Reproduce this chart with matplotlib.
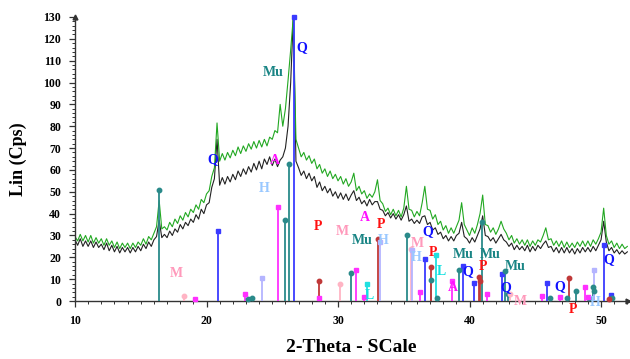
import numpy as np
import matplotlib
matplotlib.use("Agg")
import matplotlib.pyplot as plt
from matplotlib.ticker import MultipleLocator

# ---------------- data ----------------
two_theta = np.round(np.arange(10.0, 52.01, 0.2), 1)

black_cps = [
    28, 25.5, 28.5, 25, 27.5,    25, 27.5, 24.5, 27, 24.5,    26, 23.5, 26.5, 23, 25.5,
    22.5, 25, 22, 24.5, 22.5,    24.5, 22, 24.5, 22.5, 25,    23, 26, 24, 27, 25,
    28, 29.5, 37, 29, 30.5,      29, 32, 30, 33, 31.5,        35, 33, 36, 34.5, 37.5,
    36, 39.5, 37.5, 42, 40,      44, 45, 52, 56, 74,          53, 56.5, 53.5, 57, 54.5,
    58, 55.5, 59.5, 57, 60.5,    58, 61.5, 59, 63, 60,        64, 60.5, 65, 62.5, 66,
    62, 65, 61.5, 64.5, 66,      70, 80, 100, 130, 64,        61, 57.5, 59.5, 56, 58.5,
    55, 57, 52, 54.5, 50.5,      52.5, 49.5, 51.5, 48, 50,    47, 49.5, 46.5, 49, 46,
    48.5, 50.5, 46, 47.5, 44.5,  46, 43.5, 46.5, 44, 45.5,    45.5, 42, 41.5, 39, 40.5,
    38, 40, 37.5, 39.5, 37,      39.5, 43.5, 36.5, 37.5, 35.5, 37, 35.5, 38.5, 39, 35,
    36, 32.5, 33.5, 30.5, 31.5,  28.5, 30, 27.5, 29.5, 27.5,  30, 31, 36, 29.5, 28.5,
    26.5, 29, 27, 30, 33,        39, 30, 29.5, 27.5, 29,      26.5, 28.5, 30.5, 28, 27,
    25, 26.5, 23.5, 25.5, 23.5,  25, 23, 25.5, 22.5, 25,      23, 25.5, 24, 26, 27.5,
    24.5, 25, 22.5, 24.5, 22,    24.5, 22, 24.5, 22, 24,      21.5, 24, 22, 24.5, 22.5,
    24.5, 22.5, 25, 23, 25.5,    28, 36.5, 27, 23, 24.5,      22, 23.5, 21.5, 23, 21.5,
    22.5,
]

green_cps = [
    29.5, 27.5, 30.5, 27.5, 30,  27, 30, 26.5, 29, 26.5,      28.5, 25.5, 28.5, 25.5, 27.5,
    24.5, 27, 24, 26.5, 24.5,    26.5, 24, 26.5, 24.5, 27,    25.5, 28.5, 26, 29.5, 28,
    31, 34, 46, 33, 34,          32.5, 36, 34, 37.5, 35.5,    39, 37, 40.5, 38.5, 42,
    40.5, 44, 42, 46.5, 45,      49, 50.5, 57, 61, 81.5,      64, 67.5, 64.5, 68, 65.5,
    69, 66.5, 70.5, 67.5, 71,    68.5, 72, 69.5, 73, 70,      73.5, 70.5, 74, 71, 75,
    74, 78, 77, 90, 80,          88, 101, 115, 130, 74,       70, 66, 68, 64.5, 66.5,
    63, 65, 60.5, 62.5, 58.5,    60.5, 57, 59.5, 56, 58,      55, 57, 53.5, 56, 52.5,
    54.5, 58.5, 50.5, 52.5, 49,  50.5, 47, 49, 47.5, 50,      55.5, 46, 44.5, 41, 42.5,
    39.5, 42, 39, 41.5, 38.5,    42.5, 52.5, 42, 41.5, 38.5,  41, 39, 45, 52.5, 42,
    41.5, 37.5, 39.5, 35, 36.5,  32.5, 34.5, 31, 33.5, 31,    34, 37, 45, 35, 32.5,
    30, 33.5, 31, 35, 40,        48.5, 35, 34.5, 31.5, 33.5,  30.5, 33, 36.5, 33, 31,
    28, 30, 26.5, 28.5, 26,      28, 25.5, 28, 25, 27.5,      25.5, 28, 27, 30, 33.5,
    28, 28.5, 25.5, 27.5, 25,    27.5, 24.5, 27, 24.5, 26.5,  24.5, 27, 25, 27.5, 25,
    27.5, 25, 28, 26, 28.5,      31.5, 42.5, 30, 26, 27.5,    24.5, 26.5, 24, 26, 24,
    25,
]

# reference sticks per phase
q_pos = [20.85, 26.65, 36.6, 39.53, 40.35, 42.5, 45.9, 50.23, 50.75]
q_int = [32, 130, 19, 16, 8.3, 12.2, 8.4, 25.6, 2.7]

mu_pos = [16.4, 23.15, 23.45, 26.0, 26.27, 31.0, 35.25, 37.05, 37.5, 39.2,
          40.93, 42.7, 42.9, 46.15, 47.4, 48.1, 49.1, 49.4, 49.45, 50.85]
mu_int = [51, 1, 1.5, 37, 62.7, 12.8, 30, 9.5, 1.5, 14,
          36, 13.8, 3, 1.5, 1.5, 4.6, 1.5, 6.4, 4.5, 1.5]

p_pos = [28.55, 33.05, 37.1, 40.75, 40.8, 47.55, 50.6]
p_int = [9, 28.5, 15.5, 11, 9, 10.7, 0.8]

a_pos = [19.1, 22.9, 25.45, 28.55, 31.4, 31.95, 36.25, 38.67, 41.35, 45.5,
         46.9, 48.75, 49.0]
a_int = [1, 3, 43, 1.5, 14.2, 2, 4, 9, 3, 2.5, 2, 6.5, 2]

m_pos = [18.3, 30.15, 35.55, 43.1]
m_int = [2.4, 8, 23.7, 3]

h_pos = [24.2, 33.2, 35.65, 49.5]
h_int = [10.7, 27, 23.5, 14.2]

l_pos = [32.2, 37.43]
l_int = [8, 21]

# phase labels
lbl_text = ["Q", "Mu", "Q", "A", "H", "P", "M", "A", "P", "Mu", "H", "M",
            "Q", "M", "H", "P", "L", "Mu", "Mu", "Mu", "Q", "P", "A", "L",
            "Q", "M", "Q", "P", "H", "Q"]
lbl_x = [27.26, 25.06, 20.49, 25.21, 24.37, 28.48, 30.30, 32.05, 33.27, 31.83,
         33.42, 17.68, 36.84, 36.0, 35.93, 37.22, 37.83, 39.5, 41.56, 43.46,
         39.89, 41.03, 38.75, 32.36, 42.78, 43.84, 46.88, 47.87, 49.54, 50.6]
lbl_y = [115.8, 104.8, 64.5, 64.5, 51.3, 34.3, 31.6, 38.0, 34.8, 27.9,
         27.9, 12.8, 31.6, 26.1, 19.7, 22.0, 13.3, 21.5, 21.5, 15.6,
         13.3, 16.0, 6.0, 2.7, 5.9, -0.3, 6.4, -3.7, -0.5, 18.8]

# ---------------- style ----------------
colors = {
    "Q": "#1010ff", "Mu": "#1a8585", "P": "#ff1010", "A": "#ff10ff",
    "M": "#ff99bb", "H": "#99c8ff", "L": "#10e0e0",
}
stick_colors = {
    "Q": "#3a3aff", "Mu": "#2a8a8a", "P": "#c03838", "A": "#ff30ff",
    "M": "#ffb4c4", "H": "#b4b4ff", "L": "#20e0e0",
}
stick_markers = {"Q": "s", "Mu": "o", "P": "o", "A": "s", "M": "o", "H": "s", "L": "s"}

serif = ["Liberation Serif", "DejaVu Serif"]

fig = plt.figure(figsize=(6.30, 3.59), dpi=100)
ax = fig.add_axes([75 / 630, 1 - 301 / 359, (628 - 75) / 630, (301 - 17) / 359])

ax.plot(two_theta, black_cps, color="#222222", lw=0.8, zorder=2)
ax.plot(two_theta, green_cps, color="#22a822", lw=0.8, zorder=2)

phases = [("Q", q_pos, q_int), ("Mu", mu_pos, mu_int), ("P", p_pos, p_int),
          ("A", a_pos, a_int), ("M", m_pos, m_int), ("H", h_pos, h_int),
          ("L", l_pos, l_int)]
for name, pos, inten in phases:
    c = stick_colors[name]
    ax.vlines(pos, 0, inten, colors=c, lw=1.3, zorder=3)
    ax.plot(pos, inten, ls="none", marker=stick_markers[name], ms=3.2,
            color=c, zorder=4, clip_on=False)

for t, x, y in zip(lbl_text, lbl_x, lbl_y):
    ax.text(x, y, t, color=colors[t], fontsize=10, fontweight="bold",
            family=serif, ha="center", va="center", zorder=5, clip_on=False)

ax.set_xlim(10, 52.05)
ax.set_ylim(0, 130)
for s in ["top", "right"]:
    ax.spines[s].set_visible(False)
for s in ["left", "bottom"]:
    ax.spines[s].set_color("#333333")
    ax.spines[s].set_linewidth(1.0)

ax.xaxis.set_major_locator(MultipleLocator(10))
ax.xaxis.set_minor_locator(MultipleLocator(1))
ax.yaxis.set_major_locator(MultipleLocator(10))
ax.yaxis.set_minor_locator(MultipleLocator(2))
ax.tick_params(axis="both", which="major", length=4, width=0.9, color="#333333",
               labelsize=8.5, pad=6)
ax.tick_params(axis="both", which="minor", length=2.5, width=0.7, color="#333333")
ax.tick_params(axis="x", which="major", pad=6)
for lab in ax.get_xticklabels() + ax.get_yticklabels():
    lab.set_family(serif)
    lab.set_fontweight("bold")

# axis arrows
ax.plot([10], [130], marker="^", ms=3.5, color="#333333", clip_on=False, zorder=6)
ax.plot([52.05], [0], marker=">", ms=3.5, color="#333333", clip_on=False, zorder=6)

ax.set_xlabel("2-Theta - SCale", family=serif, fontweight="bold", fontsize=14,
              labelpad=9)
ax.set_ylabel("Lin (Cps)", family=serif, fontweight="bold", fontsize=13,
              labelpad=12)

fig.savefig("out.png", dpi=100)
